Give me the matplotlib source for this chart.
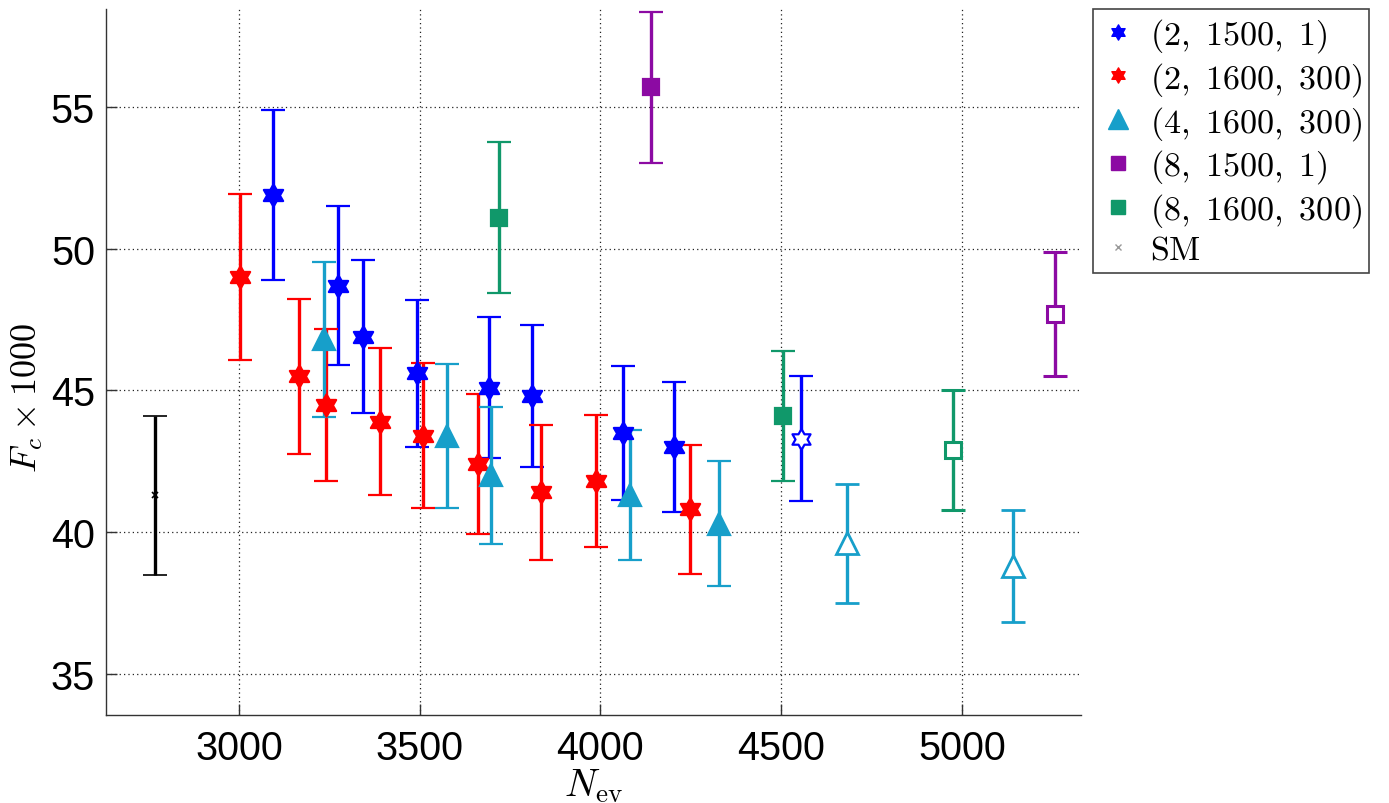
import matplotlib
matplotlib.use("Agg")
import matplotlib.pyplot as plt
from matplotlib.path import Path
from matplotlib.lines import Line2D

plt.rcParams["mathtext.fontset"] = "cm"
plt.rcParams["font.family"] = ["Liberation Sans", "DejaVu Sans"]

# ---- data: (N_ev, F_c*1000, error) ----
sm_x, sm_y, sm_err = [2767], [41.3], [2.8]

b_x = [3094, 3275, 3344, 3492, 3693, 3811, 4063, 4203]
b_y = [51.9, 48.7, 46.9, 45.6, 45.1, 44.8, 43.5, 43.0]
b_err = [3.0, 2.8, 2.7, 2.6, 2.5, 2.5, 2.35, 2.3]
b_open_x, b_open_y, b_open_err = [4556], [43.3], [2.2]

r_x = [3003, 3167, 3241, 3391, 3509, 3660, 3836, 3988, 4247]
r_y = [49.0, 45.5, 44.5, 43.9, 43.4, 42.4, 41.4, 41.8, 40.8]
r_err = [2.93, 2.73, 2.68, 2.59, 2.56, 2.46, 2.37, 2.34, 2.26]

c_x = [3234, 3575, 3697, 4083, 4328]
c_y = [46.8, 43.4, 42.0, 41.3, 40.3]
c_err = [2.73, 2.53, 2.43, 2.3, 2.2]
c_open_x, c_open_y, c_open_err = [4683, 5143], [39.6, 38.8], [2.1, 1.98]

p_x, p_y, p_err = [4140], [55.7], [2.67]
p_open_x, p_open_y, p_open_err = [5258], [47.7], [2.18]

g_x, g_y, g_err = [3720, 4506], [51.1, 44.1], [2.67, 2.28]
g_open_x, g_open_y, g_open_err = [4975], [42.9], [2.12]

labels = [r"$\mathrm{(2,\ 1500,\ 1)}$", r"$\mathrm{(2,\ 1600,\ 300)}$",
          r"$\mathrm{(4,\ 1600,\ 300)}$", r"$\mathrm{(8,\ 1500,\ 1)}$",
          r"$\mathrm{(8,\ 1600,\ 300)}$", r"$\mathrm{SM}$"]

BLUE, RED, CYAN = "#0000ff", "#ff0000", "#179fca"
PURPLE, GREEN = "#8c0aa3", "#10986a"

star = Path.unit_regular_star(6, 0.577)

fig = plt.figure(figsize=(13.89, 8.04), dpi=100)
ax = fig.add_axes([0.0763, 0.1095, 0.7020, 0.8781])

eb = dict(linestyle="none", elinewidth=2.4, capsize=8.5, capthick=2.4)


def series(x, y, e, color, marker, ms, filled=True, mew=1.6):
    ax.errorbar(x, y, yerr=e, color=color, ecolor=color, marker=marker,
                ms=ms, mfc=color if filled else "white", mec=color,
                mew=mew, **eb)


series(sm_x, sm_y, sm_err, "k", "x", 5, mew=1.2)
series(b_x, b_y, b_err, BLUE, star, 16)
series(b_open_x, b_open_y, b_open_err, BLUE, star, 15, filled=False)
series(r_x, r_y, r_err, RED, star, 16)
series(c_x, c_y, c_err, CYAN, "^", 16)
series(c_open_x, c_open_y, c_open_err, CYAN, "^", 16, filled=False, mew=2)
series(p_x, p_y, p_err, PURPLE, "s", 11)
series(p_open_x, p_open_y, p_open_err, PURPLE, "s", 11, filled=False, mew=2.2)
series(g_x, g_y, g_err, GREEN, "s", 11)
series(g_open_x, g_open_y, g_open_err, GREEN, "s", 11, filled=False, mew=2.2)

ax.set_xlim(2632, 5330)
ax.set_ylim(33.55, 58.46)
ax.set_xticks([3000, 3500, 4000, 4500, 5000])
ax.set_yticks([35, 40, 45, 50, 55])
ax.grid(True, linestyle=(0, (1, 2.5)), color="#222222", linewidth=0.9)
ax.set_axisbelow(True)
for side in ("top", "right"):
    ax.spines[side].set_visible(False)
for side in ("left", "bottom"):
    ax.spines[side].set_color("#333333")
    ax.spines[side].set_linewidth(1.0)
ax.tick_params(direction="in", length=8, width=1, labelsize=28.5,
               color="#333333")
ax.tick_params(axis="x", pad=10)
ax.tick_params(axis="y", pad=8)

ax.set_xlabel(r"$N_{\rm ev}$", fontsize=28, labelpad=0)
ax.set_ylabel(r"$F_c \times 1000$", fontsize=26)
ax.yaxis.set_label_coords(-0.063, 0.45)

handles = [
    Line2D([], [], ls="none", marker=star, ms=11, color=BLUE),
    Line2D([], [], ls="none", marker=star, ms=11, color=RED),
    Line2D([], [], ls="none", marker="^", ms=14, color=CYAN),
    Line2D([], [], ls="none", marker="s", ms=10, color=PURPLE),
    Line2D([], [], ls="none", marker="s", ms=10, color=GREEN),
    Line2D([], [], ls="none", marker="x", ms=5, color="#999999", mew=1),
]
leg = fig.legend(handles, labels, loc="upper left",
                 bbox_to_anchor=(0.787, 0.988), bbox_transform=fig.transFigure,
                 borderaxespad=0, fontsize=24.5, handlelength=1.0,
                 handletextpad=0.45, labelspacing=0.17, borderpad=0.22,
                 fancybox=False, framealpha=1)
leg.get_frame().set_edgecolor("#444444")
leg.get_frame().set_linewidth(1.2)

fig.savefig("out.png", dpi=100)
